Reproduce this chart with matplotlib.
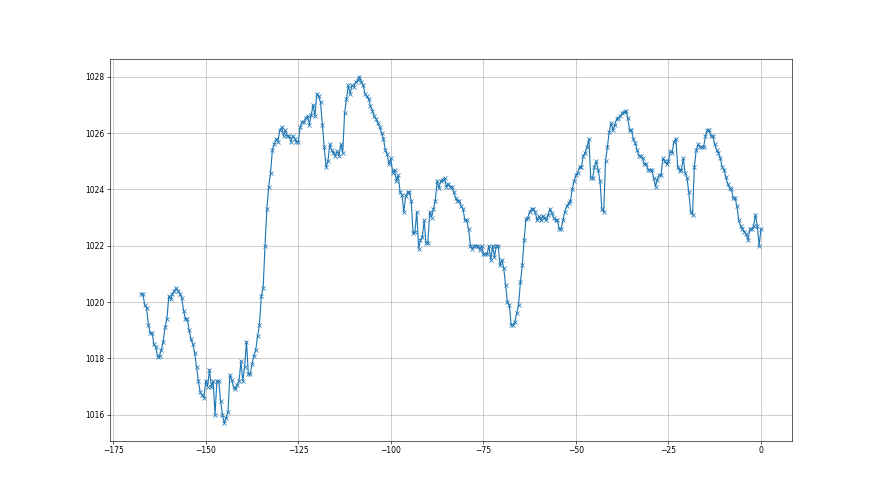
import numpy as np
import matplotlib
matplotlib.use("Agg")
import matplotlib.pyplot as plt

# Pressure readings (hPa), every half unit, ending at x = 0
pressure = [
    1020.3, 1020.3, 1019.9, 1019.8, 1019.2, 1018.9, 1018.9, 1018.5, 1018.4, 1018.05,
    1018.1, 1018.3, 1018.6, 1019.1, 1019.4, 1020.2, 1020.1, 1020.3, 1020.4, 1020.5,
    1020.4, 1020.3, 1020.15, 1019.7, 1019.4, 1019.4, 1019.0, 1018.7, 1018.5, 1018.2,
    1017.7, 1017.2, 1016.8, 1016.7, 1016.6, 1017.2, 1017.0, 1017.6, 1017.0, 1017.2,
    1016.0, 1017.2, 1017.2, 1016.5, 1016.0, 1015.7, 1015.9, 1016.1, 1017.4, 1017.25,
    1017.0, 1016.9, 1017.07, 1017.2, 1017.9, 1017.2, 1017.7, 1018.6, 1017.45, 1017.45,
    1017.8, 1018.1, 1018.3, 1018.8, 1019.2, 1020.2, 1020.5, 1022.0, 1023.3, 1024.1,
    1024.6, 1025.4, 1025.6, 1025.8, 1025.7, 1026.1, 1026.2, 1025.9, 1026.1, 1025.9,
    1025.9, 1025.7, 1025.9, 1025.8, 1025.7, 1025.7, 1026.2, 1026.4, 1026.4, 1026.55,
    1026.6, 1026.3, 1026.65, 1027.0, 1026.6, 1027.4, 1027.3, 1027.1, 1026.3, 1025.5,
    1024.8, 1025.0, 1025.6, 1025.4, 1025.3, 1025.2, 1025.35, 1025.2, 1025.6, 1025.3,
    1026.7, 1027.2, 1027.7, 1027.4, 1027.7, 1027.65, 1027.8, 1027.87, 1028.0, 1027.83,
    1027.7, 1027.4, 1027.3, 1027.2, 1026.95, 1026.8, 1026.6, 1026.5, 1026.35, 1026.2,
    1026.0, 1025.8, 1025.4, 1025.25, 1024.9, 1025.1, 1024.6, 1024.7, 1024.3, 1024.5,
    1023.9, 1023.8, 1023.2, 1023.75, 1023.9, 1023.9, 1023.6, 1022.45, 1022.5, 1023.2,
    1021.9, 1022.2, 1022.3, 1022.9, 1022.1, 1022.1, 1023.2, 1023.0, 1023.3, 1023.6,
    1024.3, 1024.05, 1024.3, 1024.35, 1024.4, 1024.1, 1024.2, 1024.1, 1024.1, 1023.9,
    1023.7, 1023.6, 1023.6, 1023.4, 1023.3, 1022.9, 1022.9, 1022.6, 1022.0, 1021.9,
    1022.0, 1022.0, 1022.0, 1021.85, 1022.0, 1021.7, 1021.7, 1021.7, 1022.0, 1021.5,
    1022.0, 1021.6, 1022.0, 1022.0, 1021.3, 1021.5, 1021.2, 1020.6, 1020.0, 1019.9,
    1019.2, 1019.2, 1019.3, 1019.6, 1019.9, 1020.7, 1021.3, 1022.2, 1022.95, 1023.0,
    1023.2, 1023.3, 1023.3, 1023.2, 1022.9, 1023.05, 1022.9, 1023.07, 1023.0, 1022.9,
    1023.1, 1023.3, 1023.15, 1023.0, 1022.9, 1022.9, 1022.6, 1022.6, 1022.9, 1023.2,
    1023.4, 1023.5, 1023.6, 1024.0, 1024.3, 1024.5, 1024.6, 1024.8, 1024.8, 1025.2,
    1025.3, 1025.5, 1025.8, 1024.4, 1024.4, 1024.8, 1025.0, 1024.7, 1024.3, 1023.3,
    1023.2, 1025.0, 1025.5, 1026.05, 1026.35, 1026.1, 1026.3, 1026.5, 1026.55, 1026.6,
    1026.7, 1026.75, 1026.8, 1026.55, 1026.1, 1026.1, 1025.8, 1025.65, 1025.4, 1025.2,
    1025.2, 1025.1, 1024.9, 1024.9, 1024.7, 1024.7, 1024.7, 1024.4, 1024.1, 1024.35,
    1024.5, 1024.5, 1025.1, 1025.0, 1024.9, 1025.0, 1025.35, 1025.3, 1025.7, 1025.8,
    1024.8, 1024.65, 1024.7, 1025.1, 1024.6, 1024.4, 1023.9, 1023.2, 1023.1, 1024.8,
    1025.4, 1025.6, 1025.5, 1025.5, 1025.5, 1025.9, 1026.1, 1026.1, 1025.9, 1025.9,
    1025.6, 1025.4, 1025.3, 1025.1, 1024.8, 1024.7, 1024.45, 1024.2, 1024.05, 1024.0,
    1023.7, 1023.7, 1023.4, 1022.9, 1022.7, 1022.6, 1022.5, 1022.4, 1022.2, 1022.6,
    1022.6, 1022.7, 1023.1, 1022.7, 1022.0, 1022.6,
]

step = 0.5
n = len(pressure)
time = (np.arange(n) - (n - 1)) * step

fig, ax = plt.subplots(figsize=(16, 9), dpi=55)
ax.plot(time, pressure, marker="x", color="#1f77b4")
ax.grid(True)
fig.savefig("out.png", dpi=55)
